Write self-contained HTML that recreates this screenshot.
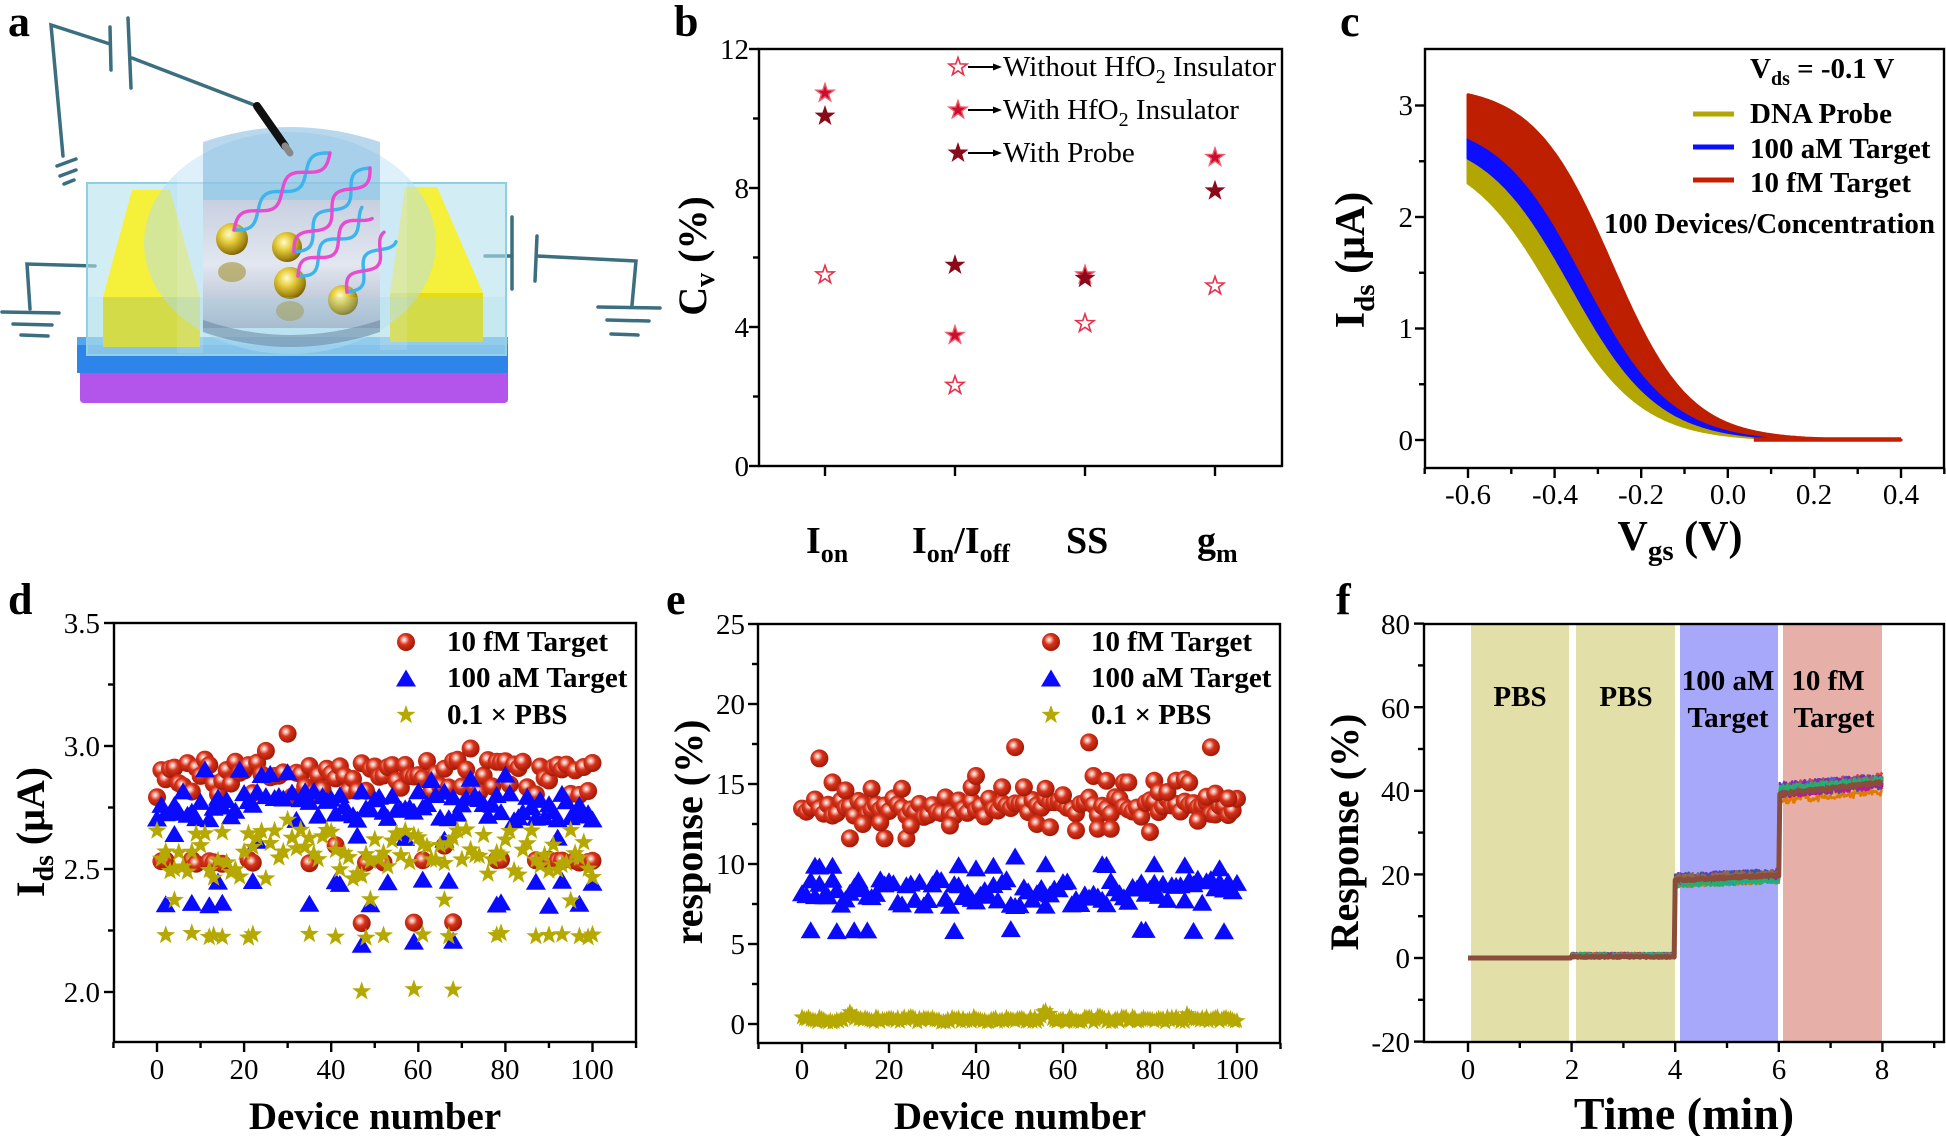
<!DOCTYPE html>
<html><head><meta charset="utf-8"><style>
html,body{margin:0;padding:0;background:#fff;}
svg{display:block;}
text{font-family:"Liberation Serif","Times New Roman",serif;fill:#000;}
.b{font-weight:bold;}
</style></head><body>
<svg id="s" width="1946" height="1136" viewBox="0 0 1946 1136" xmlns="http://www.w3.org/2000/svg">
<defs>
 <radialGradient id="rg" cx="0.4" cy="0.38" r="0.62">
  <stop offset="0" stop-color="#ffffff"/><stop offset="0.22" stop-color="#f0a090"/><stop offset="0.45" stop-color="#d8321a"/><stop offset="1" stop-color="#a01a08"/>
 </radialGradient>
 <radialGradient id="gold" cx="0.4" cy="0.35" r="0.7">
  <stop offset="0" stop-color="#fffbd0"/><stop offset="0.35" stop-color="#e8d040"/><stop offset="0.8" stop-color="#a08410"/><stop offset="1" stop-color="#6a5608"/>
 </radialGradient>
 <linearGradient id="metal" x1="0" y1="0" x2="0" y2="1">
  <stop offset="0" stop-color="#c8d0e0"/><stop offset="0.5" stop-color="#e2e7f0"/><stop offset="1" stop-color="#a9b4c8"/>
 </linearGradient>
</defs>

<!-- Panel a illustration -->
<g id="pa">
 <g stroke="#3b6f80" stroke-width="3.5" fill="none" stroke-linecap="round">
  <polyline points="110,44 51,25 63,156"/>
  <line x1="57" y1="166" x2="76" y2="159"/>
  <line x1="60" y1="176" x2="76" y2="170"/>
  <line x1="64" y1="184" x2="74" y2="180"/>
  <line x1="110" y1="27" x2="111" y2="70"/>
  <line x1="128" y1="18" x2="131" y2="88"/>
  <line x1="132" y1="58" x2="257" y2="106"/>
  <polyline points="95,266 27,264 30,309"/>
  <line x1="2" y1="312" x2="59" y2="313"/>
  <line x1="13" y1="324" x2="52" y2="325"/>
  <line x1="21" y1="335" x2="48" y2="336"/>
  <line x1="485" y1="256" x2="512" y2="256"/>
  <line x1="512" y1="217" x2="512" y2="289"/>
  <line x1="537" y1="236" x2="535" y2="281"/>
  <polyline points="537,256 636,261 632,305"/>
  <line x1="598" y1="307" x2="660" y2="308"/>
  <line x1="607" y1="320" x2="649" y2="321"/>
  <line x1="611" y1="334" x2="638" y2="335"/>
 </g>
 <path d="M80,372 L508,372 L508,399 Q508,403 504,403 L84,403 Q80,403 80,399Z" fill="#b355ea"/>
 <rect x="77" y="343" width="431" height="30" fill="#2f84ea"/>
 <rect x="77" y="337" width="431" height="8" fill="#55a4f0"/>
 <rect x="87" y="183" width="419" height="172" fill="#b4e2ec" fill-opacity="0.6" stroke="#8fd0e0" stroke-width="2"/>
 <polygon points="132,190 170,190 200,297 103,297" fill="#f5f03a"/>
 <rect x="103" y="297" width="97" height="50" fill="#e6dc14"/>
 <polygon points="405,187 437,187 483,293 390,293" fill="#f5f03a"/>
 <rect x="390" y="293" width="93" height="49" fill="#e6dc14"/>
 <ellipse cx="290" cy="243" rx="146" ry="111" fill="#b4def4" fill-opacity="0.5"/>
 <path d="M203,200 L203,142 Q290,112 380,142 L380,200 Z" fill="#7fb8de" fill-opacity="0.55"/>
 <rect x="203" y="200" width="177" height="128" fill="url(#metal)"/>
 <path d="M203,320 Q290,350 380,320 L380,332 Q290,362 203,332Z" fill="#5a6a88" fill-opacity="0.55"/>
 <rect x="177" y="150" width="26" height="203" fill="#ffffff" fill-opacity="0.15"/>
 <rect x="380" y="150" width="27" height="200" fill="#ffffff" fill-opacity="0.15"/>
 <ellipse cx="232" cy="272" rx="14" ry="10" fill="#a08a20" fill-opacity="0.55"/>
 <ellipse cx="290" cy="311" rx="14" ry="10" fill="#a08a20" fill-opacity="0.55"/>
 <circle cx="232" cy="239" r="16" fill="url(#gold)"/>
 <circle cx="287" cy="247" r="15" fill="url(#gold)"/>
 <circle cx="290" cy="283" r="16" fill="url(#gold)"/>
 <circle cx="343" cy="300" r="15" fill="url(#gold)"/>
 <g id="hel"></g>
 <rect x="87" y="297" width="419" height="58" fill="#a0d8e8" fill-opacity="0.25"/>
 <line x1="257" y1="106" x2="285" y2="146" stroke="#111" stroke-width="8" stroke-linecap="round"/>
 <line x1="285" y1="146" x2="290" y2="153" stroke="#888" stroke-width="7" stroke-linecap="round"/>
</g>

<g id="dyn"></g>

<!-- Panel labels -->
<g class="b" font-size="44">
 <text x="8" y="36">a</text>
 <text x="674" y="36">b</text>
 <text x="1340" y="36">c</text>
 <text x="8" y="614">d</text>
 <text x="666" y="614">e</text>
 <text x="1336" y="614">f</text>
</g>

<!-- Panel b text -->
<g font-size="29" text-anchor="end">
 <text x="749" y="59">12</text><text x="749" y="198">8</text><text x="749" y="337">4</text><text x="749" y="476">0</text>
</g>
<g class="b" font-size="38">
 <text x="806" y="553">I<tspan font-size="26" dy="9">on</tspan></text>
 <text x="912" y="553">I<tspan font-size="26" dy="9">on</tspan><tspan dy="-9">/I</tspan><tspan font-size="26" dy="9">off</tspan></text>
 <text x="1066" y="553">SS</text>
 <text x="1197" y="553">g<tspan font-size="26" dy="9">m</tspan></text>
</g>
<text class="b" font-size="40" text-anchor="middle" transform="translate(706,256) rotate(-90)">C<tspan font-size="28" dy="8">v</tspan><tspan dy="-8"> (%)</tspan></text>
<g font-size="29">
 <text x="1003" y="76">Without HfO<tspan font-size="20" dy="7">2</tspan><tspan dy="-7"> Insulator</tspan></text>
 <text x="1003" y="119">With HfO<tspan font-size="20" dy="7">2</tspan><tspan dy="-7"> Insulator</tspan></text>
 <text x="1003" y="162">With Probe</text>
</g>

<!-- Panel c text -->
<g font-size="29" text-anchor="end">
 <text x="1413" y="450">0</text><text x="1413" y="338">1</text><text x="1413" y="227">2</text><text x="1413" y="115">3</text>
</g>
<g font-size="29" text-anchor="middle">
 <text x="1468" y="504">-0.6</text><text x="1555" y="504">-0.4</text><text x="1641" y="504">-0.2</text><text x="1728" y="504">0.0</text><text x="1814" y="504">0.2</text><text x="1901" y="504">0.4</text>
</g>
<text class="b" font-size="42" text-anchor="middle" x="1680" y="550">V<tspan font-size="29" dy="10">gs</tspan><tspan dy="-10"> (V)</tspan></text>
<text class="b" font-size="42" text-anchor="middle" transform="translate(1364,260) rotate(-90)">I<tspan font-size="29" dy="10">ds</tspan><tspan dy="-10"> (μA)</tspan></text>
<g class="b" font-size="29">
 <text x="1750" y="78">V<tspan font-size="20" dy="7">ds</tspan><tspan dy="-7"> = -0.1 V</tspan></text>
 <text x="1750" y="123">DNA Probe</text>
 <text x="1750" y="158">100 aM Target</text>
 <text x="1750" y="192">10 fM Target</text>
 <text x="1604" y="233">100 Devices/Concentration</text>
</g>

<!-- Panel d text -->
<g font-size="29" text-anchor="end">
 <text x="100" y="633">3.5</text><text x="100" y="756">3.0</text><text x="100" y="879">2.5</text><text x="100" y="1002">2.0</text>
</g>
<g font-size="29" text-anchor="middle">
 <text x="157" y="1079">0</text><text x="244" y="1079">20</text><text x="331" y="1079">40</text><text x="418" y="1079">60</text><text x="505" y="1079">80</text><text x="592" y="1079">100</text>
</g>
<text class="b" font-size="39" text-anchor="middle" x="375" y="1129">Device number</text>
<text class="b" font-size="40" text-anchor="middle" transform="translate(44,832) rotate(-90)">I<tspan font-size="28" dy="9">ds</tspan><tspan dy="-9"> (μA)</tspan></text>
<g class="b" font-size="29">
 <text x="447" y="651">10 fM Target</text>
 <text x="447" y="687">100 aM Target</text>
 <text x="447" y="724">0.1 × PBS</text>
</g>

<!-- Panel e text -->
<g font-size="29" text-anchor="end">
 <text x="745" y="634">25</text><text x="745" y="714">20</text><text x="745" y="794">15</text><text x="745" y="874">10</text><text x="745" y="954">5</text><text x="745" y="1034">0</text>
</g>
<g font-size="29" text-anchor="middle">
 <text x="802" y="1079">0</text><text x="889" y="1079">20</text><text x="976" y="1079">40</text><text x="1063" y="1079">60</text><text x="1150" y="1079">80</text><text x="1237" y="1079">100</text>
</g>
<text class="b" font-size="39" text-anchor="middle" x="1020" y="1129">Device number</text>
<text class="b" font-size="40" text-anchor="middle" transform="translate(702,832) rotate(-90)">response (%)</text>
<g class="b" font-size="29">
 <text x="1091" y="651">10 fM Target</text>
 <text x="1091" y="687">100 aM Target</text>
 <text x="1091" y="724">0.1 × PBS</text>
</g>

<!-- Panel f text -->
<g font-size="29" text-anchor="end">
 <text x="1410" y="634">80</text><text x="1410" y="718">60</text><text x="1410" y="801">40</text><text x="1410" y="885">20</text><text x="1410" y="968">0</text><text x="1410" y="1052">-20</text>
</g>
<g font-size="29" text-anchor="middle">
 <text x="1468" y="1079">0</text><text x="1572" y="1079">2</text><text x="1675" y="1079">4</text><text x="1779" y="1079">6</text><text x="1882" y="1079">8</text>
</g>
<text class="b" font-size="46" text-anchor="middle" x="1684" y="1129">Time (min)</text>
<text class="b" font-size="40" text-anchor="middle" transform="translate(1358,832) rotate(-90)">Response (%)</text>
<g class="b" font-size="29" text-anchor="middle">
 <text x="1520" y="706">PBS</text>
 <text x="1626" y="706">PBS</text>
 <text x="1728" y="690">100 aM</text>
 <text x="1728" y="727">Target</text>
 <text x="1828" y="690">10 fM</text>
 <text x="1834" y="727">Target</text>
</g>
</svg>

<script>
(function(){
var NS="http://www.w3.org/2000/svg";
var G=document.getElementById('dyn');
var HA=document.getElementById('hel');
function el(t,a,p){var e=document.createElementNS(NS,t);for(var k in a)e.setAttribute(k,a[k]);(p||G).appendChild(e);return e;}
function ln(x1,y1,x2,y2,w,c,p){el('line',{x1:x1,y1:y1,x2:x2,y2:y2,stroke:c||'#000','stroke-width':w||2.4},p);}
function rng(s){return function(){s|=0;s=s+0x6D2B79F5|0;var t=Math.imul(s^s>>>15,1|s);t=t+Math.imul(t^t>>>7,61|t)^t;return((t^t>>>14)>>>0)/4294967296;};}
function star(cx,cy,R){var r=R*0.4,d='';for(var k=0;k<10;k++){var a=-Math.PI/2+k*Math.PI/5,q=k%2?r:R;d+=(k?'L':'M')+(cx+q*Math.cos(a)).toFixed(1)+','+(cy+q*Math.sin(a)).toFixed(1);}return d+'Z';}
function tri(cx,cy,s){var h=s*0.85;return 'M'+(cx-s/2).toFixed(1)+','+(cy+h/2).toFixed(1)+'L'+(cx+s/2).toFixed(1)+','+(cy+h/2).toFixed(1)+'L'+cx.toFixed(1)+','+(cy-h/2).toFixed(1)+'Z';}
function frame(x0,y0,x1,y1,ym,yn,xm,xn){
 el('rect',{x:x0,y:y0,width:x1-x0,height:y1-y0,fill:'none',stroke:'#000','stroke-width':2.4});
 ym.forEach(function(y){ln(x0-10,y,x0,y);}); yn.forEach(function(y){ln(x0-6,y,x0,y);});
 xm.forEach(function(x){ln(x,y1,x,y1+10);}); xn.forEach(function(x){ln(x,y1,x,y1+6);});
}
function rm(a,b,st,f){var r=[];for(var v=a;v<=b+1e-9;v+=st)r.push(f(v));return r;}

/* helices panel a */
function helix(x0,y0,x1,y1,n,A){var dx=x1-x0,dy=y1-y0,L=Math.sqrt(dx*dx+dy*dy),px=-dy/L,py=dx/L;
 ['#3cb4ee','#e84ad0'].forEach(function(c,k){var d='';for(var i=0;i<=60;i++){var t=i/60,o=A*Math.sin(2*Math.PI*n*t+k*Math.PI);var x=x0+dx*t+px*o,y=y0+dy*t+py*o;d+=(i?'L':'M')+x.toFixed(1)+','+y.toFixed(1);}
 el('path',{d:d,fill:'none',stroke:c,'stroke-width':3.4,'stroke-linecap':'round'},HA);});}
helix(234,230,330,153,2,8);
helix(294,252,370,168,2,8);
helix(298,276,367,213,1.7,8);
helix(347,292,390,237,1.3,8);

/* ---- Panel b ---- */
var by=function(v){return 466-34.75*v;};
function hol(x,y){el('path',{d:star(x,y,9.5),fill:'#fff',stroke:'#e8304a','stroke-width':1.6});}
function red(x,y){el('path',{d:star(x,y,9.5),fill:'#c8102e',stroke:'#f05a6a','stroke-width':1.4});}
function dk(x,y){el('path',{d:star(x,y,9.5),fill:'#8a0a1a',stroke:'#8a0a1a','stroke-width':1});}
hol(825,by(5.5)); red(825,by(10.73)); dk(825,by(10.07));
dk(955,by(5.78)); red(955,by(3.76)); hol(955,by(2.32));
red(1085,by(5.5)); dk(1085,by(5.4)); hol(1085,by(4.1));
red(1215,by(8.88)); dk(1215,by(7.92)); hol(1215,by(5.18));
hol(958,67); red(958,110); dk(958,153);
[67,110,153].forEach(function(y){ln(968,y,994,y,2,'#000');el('polygon',{points:'993,'+(y-3.5)+' 1002,'+y+' 993,'+(y+3.5),fill:'#000'});});
frame(759,49,1282,466,[466,327,188,49],[396.5,257.5,118.5],[825,955,1085,1215],[]);

/* ---- Panel c ---- */
var cx=function(V){return 1468+(V+0.6)*433;}, cy=function(I){return 440-111.5*I;};
function sig(A,V0,s){return function(V){return Math.max(0,A/(1+Math.exp((V-V0)/s))-0.004);};}
var yl=sig(2.62,-0.40,0.1), yu=sig(2.76,-0.36,0.1), bu=sig(2.9,-0.33,0.1), ru=sig(3.18,-0.27,0.09);
function band(lo,hi,col){var a=[],b=[];for(var V=-0.6;V<=0.4001;V+=0.005){a.push(cx(V).toFixed(1)+','+cy(hi(V)).toFixed(1));b.unshift(cx(V).toFixed(1)+','+cy(lo(V)).toFixed(1));}
 el('polygon',{points:a.concat(b).join(' '),fill:col,stroke:col,'stroke-width':3,'stroke-linejoin':'round'});}
band(yl,yu,'#b3a600'); band(yu,bu,'#0d0dff'); band(bu,ru,'#bd1f00');
ln(cx(0.06),cy(0.005),cx(0.4),cy(0.005),4.5,'#c41e00');
ln(1693,114,1734,114,5,'#b3a600'); ln(1693,147,1734,147,5,'#0d0dff'); ln(1693,180,1734,180,5,'#c41e00');
frame(1425,49,1944,468,[440,328.5,217,105.5],[384.25,272.75,161.25],rm(-0.6,0.4,0.2,cx),rm(-0.7,0.5,0.2,cx));

/* ---- Panel d ---- */
var dX=function(i){return 157+4.355*i;}, dY=function(v){return 992-246*(v-2);};
var R=rng(7);
function circ(x,y){el('circle',{cx:x.toFixed(1),cy:y.toFixed(1),r:9,fill:'url(#rg)'});}
function btri(x,y){el('path',{d:tri(x,y,20),fill:'#0a0aff'});}
function ystar(x,y,Rr){el('path',{d:star(x,y,Rr||10),fill:'#b5a800'});}
var dR=[],dB=[],dS=[],i;
for(i=0;i<=100;i++){dR.push([i,2.79+R()*0.16]);dB.push([i,2.70+R()*0.12]);dS.push([i,2.46+R()*0.2]);}
dR[30][1]=3.05;dR[72][1]=2.99;dR[25][1]=2.98;
[11,19,24,26,30,72,80,63].forEach(function(k){dB[k][1]=2.86+R()*0.05;});
dS[30][1]=2.7;dS[71][1]=2.66;
function add(arr,idx,v,j){idx.forEach(function(k){arr.push([k,v+(R()-0.5)*(j||0.02)]);});}
add(dR,[1,2,8,9,12,13,15,21,22,35,48,52,61,78,79,87,89,90,92,93,96,97,99,100],2.53);
add(dR,[41,66],2.6); add(dR,[47,59,68],2.28);
add(dB,[2,8,12,15,35,49,78,79,90,97],2.36); add(dB,[14,22,41,42,53,61,67,87,93,100],2.45);
add(dB,[4,23,46,57,66,92],2.63,0.03); add(dB,[47,59,68],2.2);
add(dS,[2,8,12,13,15,21,22,35,41,48,52,61,67,78,79,87,90,93,97,99,100],2.23);
add(dS,[47,59,68],2.01); add(dS,[4,49,66,95],2.37);
dR.forEach(function(p){circ(dX(p[0]),dY(p[1]));});
dB.forEach(function(p){btri(dX(p[0]),dY(p[1]));});
dS.forEach(function(p){ystar(dX(p[0]),dY(p[1]));});
circ(406,642); btri(406,678); ystar(406,715);
frame(114,623,636,1042,[623,746,869,992],[684.5,807.5,930.5],rm(0,100,20,dX),rm(-10,110,20,dX));

/* ---- Panel e ---- */
var eX=function(i){return 802+4.35*i;}, eY=function(v){return 1024-16*v;};
R=rng(21);
var eR=[],eB=[],eS=[];
for(i=0;i<=100;i++){eR.push([i,12.9+R()*1.3]);eB.push([i,7.4+R()*1.8]);}
[[7,15.1],[10,14.6],[16,14.7],[23,14.7],[39,14.8],[40,15.5],[46,14.8],[51,14.8],[56,14.7],[60,14.3],[67,15.5],[70,15.2],[74,15.1],[75,15.1],[81,15.2],[82,14.5],[84,14.5],[86,15.2],[88,15.3],[89,15.1],[93,14.2],[95,14.4],[98,14.1],
 [11,11.6],[19,11.6],[24,11.6],[80,12.0],[14,12.5],[18,12.6],[25,12.4],[34,12.4],[54,12.5],[57,12.3],[63,12.1],[68,12.2],[71,12.2],[91,12.7],
 [4,16.6],[49,17.3],[66,17.6],[94,17.3]].forEach(function(p){eR.push(p);});
[3,4,7,36,40,44,56,69,70,81,88,96].forEach(function(k){eB.push([k,9.7+R()*0.4]);}); eB.push([49,10.5]);
[2,8,12,15,35,48,78,79,90,97].forEach(function(k){eB.push([k,5.9+(R()-0.5)*0.2]);});
for(i=0;i<=200;i++){var x=i*0.5,v=0.1+R()*0.35,a;
 a=Math.abs(x-11); if(a<1.5)v+=0.6*(1-a/1.5);
 a=Math.abs(x-56); if(a<2)v+=0.5*(1-a/2);
 a=Math.abs(x-89); if(a<1)v+=0.35*(1-a);
 a=Math.abs(x-68); if(a<1)v+=0.25*(1-a);
 eS.push([x,v]);}
eR.forEach(function(p){circ(eX(p[0]),eY(p[1]));});
eB.forEach(function(p){btri(eX(p[0]),eY(p[1]));});
eS.forEach(function(p){ystar(eX(p[0]),eY(p[1]),9);});
circ(1051,642); btri(1051,678); ystar(1051,715);
frame(758,624,1280,1043,rm(0,25,5,eY),rm(2.5,22.5,5,eY),rm(0,100,20,eX),rm(-10,110,20,eX));

/* ---- Panel f ---- */
var fX=function(t){return 1468+51.8*t;}, fY=function(v){return 958-4.18*v;};
el('rect',{x:1471,y:625,width:98,height:416,fill:'#e2e0a8'});
el('rect',{x:1576,y:625,width:99,height:416,fill:'#e2e0a8'});
el('rect',{x:1680,y:625,width:98,height:416,fill:'#a8a8fa'});
el('rect',{x:1783,y:625,width:99,height:416,fill:'#e6b0a8'});
var cols=['#d4a017','#2a9d8f','#e63946','#4361ee','#7b2cbf','#e07a00','#06aed5','#3a5a9c','#b5179e','#8d6a4a','#20b070'];
cols.forEach(function(c,k){var Rf=rng(100+k),o4=(Rf()-0.5)*2.4,o6=(Rf()-0.5)*3.2,pts=[];
 if(c=='#e07a00')o6=-2; if(c=='#e63946')o6=1.6;
 for(var t=0;t<=8.0001;t+=0.02){var v;
  if(t<2)v=0;else if(t<4)v=0.3+Rf()*0.9;else if(t<6)v=18.4+(t-4)*0.55+o4+(Rf()-0.5)*1.4;else v=39.6+(t-6)*1.1+o6+(Rf()-0.5)*1.8;
  pts.push(fX(t).toFixed(1)+','+fY(v).toFixed(1));}
 el('polyline',{points:pts.join(' '),fill:'none',stroke:c,'stroke-width':2.6,'stroke-linejoin':'round'});});
var Rm=rng(999),mp=[];
for(var t=0;t<=8.0001;t+=0.02){var v;
 if(t<2)v=0;else if(t<4)v=0.3+(Rm()-0.5)*0.3;else if(t<6)v=18.6+(t-4)*0.6+(Rm()-0.5)*0.5;else v=39.2+(t-6)*1.4+(Rm()-0.5)*0.6;
 mp.push(fX(t).toFixed(1)+','+fY(v).toFixed(1));}
el('polyline',{points:mp.join(' '),fill:'none',stroke:'#8b4c3c','stroke-width':5,'stroke-linejoin':'round'});
frame(1424,624,1944,1042,rm(-20,80,20,fY),rm(-10,70,20,fY),rm(0,8,2,fX),rm(1,9,2,fX));
})();
</script>
</body></html>
